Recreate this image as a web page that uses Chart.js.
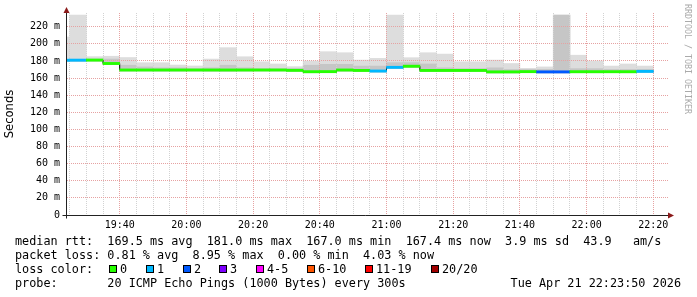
<!DOCTYPE html>
<html><head><meta charset="utf-8">
<script src="https://cdn.jsdelivr.net/npm/chart.js@4.4.1/dist/chart.umd.min.js"></script>
<style>
html,body{margin:0;padding:0;background:#fff;}
#wrap{position:relative;width:697px;height:297px;overflow:hidden;background:#fff;}
#c{position:absolute;left:0;top:0;}
.row,.lbl{position:absolute;font-family:'DejaVu Sans Mono',monospace;font-size:11.8px;line-height:14px;white-space:pre;color:#000;}
.row{left:15px;}
.sq{position:absolute;width:6px;height:6px;border:1px solid #000;}
#wm{position:absolute;left:683px;top:4px;writing-mode:vertical-rl;font-family:'DejaVu Sans Mono',monospace;font-size:8.3px;color:#aaa;}
</style></head>
<body>
<div id="wrap">
<canvas id="c" width="697" height="297"></canvas>
<div id="wm">RRDTOOL / TOBI OETIKER</div>
<div class="row" id="r1" style="top:234px"></div>
<div class="row" id="r2" style="top:248px"></div>
<div class="row" id="r3" style="top:262px"></div>
<div class="row" id="r4" style="top:276px"></div>
<div class="lbl" id="date" style="top:276px;right:16px"></div>
</div>
<script>
// ---- data ----
const intervalStarts = ['19:20','19:25','19:30','19:35','19:40','19:45','19:50','19:55','20:00','20:05','20:10','20:15','20:20','20:25','20:30','20:35','20:40','20:45','20:50','20:55','21:00','21:05','21:10','21:15','21:20','21:25','21:30','21:35','21:40','21:45','21:50','21:55','22:00','22:05','22:10','22:15'];
const medianRtt = [180.8,180.9,181.0,177.0,169.4,169.4,169.4,169.4,169.4,169.4,169.4,169.4,169.4,169.4,169.0,167.4,167.5,169.4,168.9,168.2,172.5,173.8,168.9,168.9,168.9,168.9,167.2,167.2,167.5,167.2,167.2,167.4,167.4,167.4,167.4,167.8];
const smokeMin = [179.5,179.6,179.8,175.8,168.2,168.3,168.2,168.2,168.3,168.1,168.0,168.2,168.3,168.3,167.9,166.2,166.3,168.1,167.6,167.0,171.2,172.5,167.6,167.7,167.7,167.8,166.0,166.0,166.3,166.0,166.0,166.2,166.2,166.3,166.2,166.6];
const smokeMid = [180.8,181.5,182.0,182.2,175.0,173.0,172.0,172.0,171.0,172.0,175.0,172.0,171.0,171.0,171.0,175.0,176.0,176.0,174.0,174.0,178.0,178.0,176.4,172.0,171.0,171.0,172.0,170.0,170.0,170.0,233.6,171.0,171.0,170.0,170.0,170.0];
const smokeMax = [208.0,233.6,185.0,185.5,184.0,177.9,177.9,175.2,174.1,182.2,195.5,184.9,179.0,176.4,173.3,179.9,190.8,189.6,181.0,183.0,233.6,183.8,189.6,188.0,179.0,179.0,181.0,177.0,171.3,173.0,233.6,186.7,180.0,174.0,176.4,174.0];
const lossCount = [1,1,0,0,0,0,0,0,0,0,0,0,0,0,0,0,0,0,0,1,1,0,0,0,0,0,0,0,0,2,2,0,0,0,0,1];
const lossLegend = ['0','1','2','3','4-5','6-10','11-19','20/20'];
const lossLegendColors = ['#26ff00','#00b8ff','#0059ff','#7e00ff','#ff00ff','#ff5500','#ff0000','#a10000'];
const yTickValues = [0,10,20,30,40,50,60,70,80,90,100,110,120,130,140,150,160,170,180,190,200,210,220,230];
const xTickTimes = ['19:25','19:30','19:35','19:40','19:45','19:50','19:55','20:00','20:05','20:10','20:15','20:20','20:25','20:30','20:35','20:40','20:45','20:50','20:55','21:00','21:05','21:10','21:15','21:20','21:25','21:30','21:35','21:40','21:45','21:50','21:55','22:00','22:05','22:10','22:15','22:20'];
const axisStart = '19:24.2', axisEnd = '22:24.4';
const statsLine1 = 'median rtt:  169.5 ms avg  181.0 ms max  167.0 ms min  167.4 ms now  3.9 ms sd  43.9   am/s';
const statsLine2 = 'packet loss: 0.81 % avg  8.95 % max  0.00 % min  4.03 % now';
const probeLine = 'probe:       20 ICMP Echo Pings (1000 Bytes) every 300s';
const dateText = 'Tue Apr 21 22:23:50 2026';

// ---- helpers ----
const toMin = s => { const [h, m] = s.split(':').map(Number); return h * 60 + m; };
const fmt = v => { const h = Math.floor(v / 60), m = Math.round(v % 60); return String(h).padStart(2,'0') + ':' + String(m).padStart(2,'0'); };
function lossColor(n){
  if (n === 0) return lossLegendColors[0];
  if (n === 1) return lossLegendColors[1];
  if (n === 2) return lossLegendColors[2];
  if (n === 3) return lossLegendColors[3];
  if (n <= 5) return lossLegendColors[4];
  if (n <= 10) return lossLegendColors[5];
  if (n <= 19) return lossLegendColors[6];
  return lossLegendColors[7];
}
const starts = intervalStarts.map(toMin);
const centers = starts.map(s => s + 2.5);
const HALF = 1.3;

const lightData = centers.map((x, i) => ({x, y: [smokeMin[i], smokeMax[i]]}));
const darkData = centers.map((x, i) => ({x, y: [smokeMin[i], smokeMid[i]]}));
const medData = centers.map((x, i) => ({x, y: [medianRtt[i] - HALF, medianRtt[i] + HALF]}));
const stepData = starts.map((x, i) => ({x, y: medianRtt[i]}));
stepData.push({x: starts[starts.length - 1] + 5, y: medianRtt[medianRtt.length - 1]});

const gridRedraw = {
  id: 'gridRedraw',
  afterDatasetDraw(chart, args) {
    if (chart.data.datasets[args.index].label === 'smokeDark') {
      chart.scales.x.drawGrid(chart.chartArea);
      chart.scales.y.drawGrid(chart.chartArea);
    }
  },
  afterDraw(chart) {
    const ctx = chart.ctx, a = chart.chartArea;
    const L = Math.round(a.left) - 0.5, B = Math.round(a.bottom) + 0.5;
    ctx.save();
    ctx.strokeStyle = '#222'; ctx.lineWidth = 1;
    ctx.beginPath();
    ctx.moveTo(L, a.top - 2); ctx.lineTo(L, B + 3);
    ctx.moveTo(L - 4, B); ctx.lineTo(a.right + 1, B);
    ctx.stroke();
    ctx.fillStyle = '#8b1a1a';
    ctx.beginPath();
    ctx.moveTo(L, a.top - 6); ctx.lineTo(L - 3, a.top); ctx.lineTo(L + 3, a.top); ctx.closePath(); ctx.fill();
    ctx.beginPath();
    ctx.moveTo(a.right + 6, B); ctx.lineTo(a.right, B - 3); ctx.lineTo(a.right, B + 3); ctx.closePath(); ctx.fill();
    ctx.restore();
  }
};

const dotted = [1, 1];
new Chart(document.getElementById('c'), {
  type: 'bar',
  data: {
    datasets: [
      {type: 'bar', label: 'median', data: medData, order: 0, grouped: false, clip: 0,
       backgroundColor: lossCount.map(lossColor), barPercentage: 1, categoryPercentage: 1, borderWidth: 0},
      {type: 'line', label: 'step', data: stepData, order: 1, stepped: true, clip: 0,
       borderColor: '#000', borderWidth: 1, pointRadius: 0, fill: false},
      {type: 'bar', label: 'smokeDark', data: darkData, order: 2, grouped: false, clip: 0,
       backgroundColor: '#c6c6c6', barPercentage: 1, categoryPercentage: 1, borderWidth: 0},
      {type: 'bar', label: 'smokeLight', data: lightData, order: 3, grouped: false, clip: 0,
       backgroundColor: '#dddddd', barPercentage: 1, categoryPercentage: 1, borderWidth: 0}
    ]
  },
  options: {
    responsive: false, animation: false, maintainAspectRatio: false,
    layout: {padding: {left: 0, top: 13, right: 29, bottom: 62}},
    plugins: {legend: {display: false}, tooltip: {enabled: false}},
    scales: {
      x: {
        type: 'linear', offset: false,
        min: toMin(axisStart.split('.')[0]) + Number('0.' + axisStart.split('.')[1]),
        max: toMin(axisEnd.split('.')[0]) + Number('0.' + axisEnd.split('.')[1]),
        afterBuildTicks: s => { s.ticks = xTickTimes.map(t => ({value: toMin(t)})); },
        afterFit: s => { s.height = 20; },
        ticks: {autoSkip: false, maxRotation: 0, minRotation: 0, padding: 4,
          font: {family: 'DejaVu Sans Mono', size: 10}, color: '#000',
          callback: v => (v % 20 === 0 ? fmt(v) : '')},
        grid: {offset: false, drawTicks: false, lineWidth: 1, borderDash: dotted,
          color: c => (c.tick && c.tick.value % 20 === 0 ? '#e6a2a2' : '#d2d2d2')},
        border: {display: false, dash: dotted}
      },
      y: {
        type: 'linear', min: 0, max: 236,
        afterBuildTicks: s => { s.ticks = yTickValues.map(v => ({value: v})); },
        afterFit: s => { s.width = 67; },
        ticks: {padding: 7, font: {family: 'DejaVu Sans Mono', size: 10}, color: '#000',
          callback: v => (v === 0 ? '0' : (v % 20 === 0 ? v + ' m' : ''))},
        grid: {drawTicks: false, lineWidth: 1, borderDash: dotted,
          color: c => (c.tick && c.tick.value === 0 ? 'rgba(0,0,0,0)' : (c.tick && c.tick.value % 20 === 0 ? '#e6a2a2' : '#d2d2d2'))},
        border: {display: false, dash: dotted},
        title: {display: true, text: 'Seconds', color: '#000', padding: {top: 3, bottom: 0},
          font: {family: 'DejaVu Sans', size: 11.6}}
      }
    }
  },
  plugins: [gridRedraw]
});

// ---- footer text ----
document.getElementById('r1').textContent = statsLine1;
document.getElementById('r2').textContent = statsLine2;
document.getElementById('r3').textContent = 'loss color:';
document.getElementById('r4').textContent = probeLine;
document.getElementById('date').textContent = dateText;
const sqLeft = [109, 146, 183, 219, 256, 307, 365, 431];
const wrap = document.getElementById('wrap');
lossLegend.forEach((t, i) => {
  const sq = document.createElement('div');
  sq.className = 'sq';
  sq.style.left = sqLeft[i] + 'px'; sq.style.top = '265px';
  sq.style.background = lossLegendColors[i];
  wrap.appendChild(sq);
  const lb = document.createElement('div');
  lb.className = 'lbl';
  lb.style.left = (sqLeft[i] + 11) + 'px'; lb.style.top = '262px';
  lb.textContent = t;
  wrap.appendChild(lb);
});
</script>
</body></html>
